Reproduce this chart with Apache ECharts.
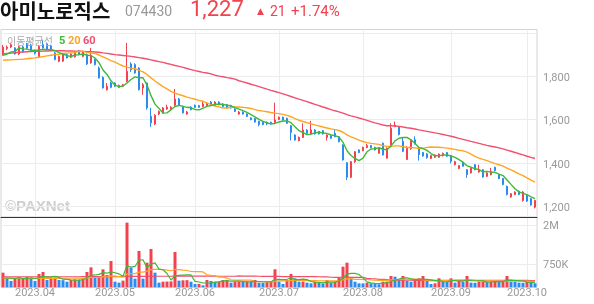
<!DOCTYPE html>
<html><head><meta charset="utf-8">
<script src="https://cdn.jsdelivr.net/npm/echarts@6/dist/echarts.min.js"></script>
<style>html,body{margin:0;padding:0;background:#fff}#c{width:594px;height:304px}</style>
</head><body><div id="c"></div>
<script>
const dates = [
'2023-03-22','2023-03-23','2023-03-24','2023-03-27','2023-03-28','2023-03-29','2023-03-30','2023-03-31',
'2023-04-03','2023-04-04','2023-04-05','2023-04-06','2023-04-07','2023-04-10','2023-04-11','2023-04-12','2023-04-13','2023-04-14','2023-04-17','2023-04-18','2023-04-19','2023-04-20','2023-04-21','2023-04-24','2023-04-25','2023-04-26','2023-04-27','2023-04-28',
'2023-05-02','2023-05-03','2023-05-04','2023-05-08','2023-05-09','2023-05-10','2023-05-11','2023-05-12','2023-05-15','2023-05-16','2023-05-17','2023-05-18','2023-05-19','2023-05-22','2023-05-23','2023-05-24','2023-05-25','2023-05-26','2023-05-30','2023-05-31',
'2023-06-01','2023-06-02','2023-06-05','2023-06-07','2023-06-08','2023-06-09','2023-06-12','2023-06-13','2023-06-14','2023-06-15','2023-06-16','2023-06-19','2023-06-20','2023-06-21','2023-06-22','2023-06-23','2023-06-26','2023-06-27','2023-06-28','2023-06-29','2023-06-30',
'2023-07-03','2023-07-04','2023-07-05','2023-07-06','2023-07-07','2023-07-10','2023-07-11','2023-07-12','2023-07-13','2023-07-14','2023-07-17','2023-07-18','2023-07-19','2023-07-20','2023-07-21','2023-07-24','2023-07-25','2023-07-26','2023-07-27','2023-07-28','2023-07-31',
'2023-08-01','2023-08-02','2023-08-03','2023-08-04','2023-08-07','2023-08-08','2023-08-09','2023-08-10','2023-08-11','2023-08-14','2023-08-16','2023-08-17','2023-08-18','2023-08-21','2023-08-22','2023-08-23','2023-08-24','2023-08-25','2023-08-28','2023-08-29','2023-08-30','2023-08-31',
'2023-09-01','2023-09-04','2023-09-05','2023-09-06','2023-09-07','2023-09-08','2023-09-11','2023-09-12','2023-09-13','2023-09-14','2023-09-15','2023-09-18','2023-09-19','2023-09-20','2023-09-21','2023-09-22','2023-09-25','2023-09-26','2023-09-27',
'2023-10-04','2023-10-05','2023-10-06'];

const opens = [
1900,1928,1935,1931,1903,1936,1950,1945,1918,1888,
1946,1950,1940,1908,1869,1870,1900,1888,1890,1918,
1892,1900,1862,1877,1838,1795,1738,1769,1769,1749,
1754,1777,1857,1854,1838,1746,1769,1615,1580,1626,
1631,1649,1646,1666,1695,1661,1626,1658,1666,1665,
1661,1665,1681,1666,1681,1672,1669,1665,1649,1626,
1635,1626,1608,1605,1592,1588,1588,1588,1586,1601,
1611,1606,1572,1529,1503,1518,1552,1534,1552,1545,
1549,1518,1525,1537,1521,1483,1401,1334,1406,1460,
1457,1471,1480,1472,1445,1491,1422,1483,1568,1568,
1500,1416,1466,1507,1470,1448,1442,1421,1426,1426,
1434,1448,1434,1392,1374,1403,1369,1354,1392,1358,
1369,1338,1346,1380,1346,1328,1292,1243,1254,1269,
1226,1250,1235,1196];
const highs = [
1945,1942,1955,1935,1942,1940,1955,1950,1922,1942,
1969,1956,1946,1912,1895,1908,1905,1906,1915,1922,
1918,1905,1931,1882,1845,1800,1769,1775,1772,1762,
1765,1954,1865,1860,1842,1769,1772,1654,1625,1642,
1658,1669,1662,1741,1700,1665,1640,1662,1670,1668,
1685,1678,1686,1685,1685,1676,1672,1668,1652,1640,
1638,1629,1611,1608,1595,1591,1591,1590,1678,1614,
1614,1609,1575,1532,1522,1583,1556,1594,1556,1548,
1552,1532,1528,1555,1524,1486,1404,1409,1455,1463,
1475,1488,1483,1475,1471,1494,1472,1583,1591,1571,
1515,1477,1510,1523,1473,1451,1445,1437,1440,1444,
1448,1451,1437,1410,1390,1406,1372,1380,1395,1392,
1372,1357,1377,1383,1349,1331,1295,1261,1269,1272,
1270,1253,1238,1230];
const lows = [
1895,1920,1930,1900,1898,1910,1925,1915,1900,1885,
1928,1920,1918,1874,1865,1866,1882,1884,1886,1897,
1888,1852,1858,1850,1790,1744,1734,1745,1750,1745,
1750,1772,1820,1812,1735,1715,1646,1566,1575,1620,
1628,1645,1642,1662,1662,1628,1622,1643,1654,1654,
1658,1662,1662,1662,1666,1658,1651,1651,1635,1622,
1623,1612,1597,1586,1569,1574,1574,1577,1583,1598,
1595,1580,1504,1503,1500,1515,1534,1530,1531,1531,
1531,1503,1511,1518,1495,1411,1321,1330,1400,1445,
1454,1468,1468,1457,1442,1434,1420,1480,1565,1527,
1450,1414,1460,1485,1411,1429,1420,1418,1423,1423,
1430,1428,1398,1389,1371,1382,1331,1351,1366,1355,
1332,1335,1343,1362,1325,1297,1250,1240,1251,1251,
1222,1220,1203,1190];
const closes = [
1935,1935,1946,1903,1936,1912,1930,1918,1906,1938,
1931,1923,1923,1877,1892,1900,1885,1903,1912,1900,
1915,1857,1896,1854,1792,1746,1754,1749,1754,1758,
1761,1823,1830,1815,1738,1761,1654,1585,1620,1638,
1654,1658,1657,1695,1666,1631,1635,1646,1657,1657,
1672,1674,1666,1681,1669,1661,1654,1654,1638,1635,
1626,1615,1600,1589,1577,1577,1580,1580,1598,1611,
1598,1583,1540,1506,1518,1552,1537,1552,1534,1534,
1534,1529,1514,1521,1498,1414,1334,1406,1452,1448,
1472,1480,1471,1460,1468,1437,1468,1560,1575,1531,
1454,1468,1506,1489,1438,1432,1424,1434,1437,1441,
1444,1431,1408,1406,1388,1385,1346,1377,1369,1369,
1335,1354,1361,1365,1328,1300,1254,1258,1266,1254,
1266,1224,1206,1227];
const volumes = [
471000,310000,203000,289000,292000,295000,342000,289000,203000,428000,
493000,235000,310000,315000,235000,230000,181000,235000,257000,250000,
289000,493000,643000,310000,342000,579000,396000,847000,181000,149000,
214000,2081000,632000,278000,1169000,278000,793000,1233000,471000,149000,
181000,185000,190000,1137000,214000,225000,230000,181000,106000,110000,
63000,235000,203000,181000,185000,235000,240000,149000,181000,185000,
181000,185000,181000,235000,149000,145000,181000,185000,579000,181000,
106000,235000,428000,289000,181000,185000,149000,128000,181000,149000,
128000,235000,149000,181000,321000,664000,793000,289000,181000,128000,
125000,149000,128000,106000,100000,181000,185000,364000,342000,257000,
364000,203000,181000,235000,289000,364000,203000,106000,128000,289000,
181000,175000,289000,149000,214000,181000,364000,149000,145000,181000,
185000,175000,185000,190000,181000,185000,364000,181000,175000,149000,
145000,181000,149000,128000];
const ma5Head = [1897,1903,1912,1915];
const ma20Head = [1874,1875,1876,1877,1878,1879,1881,1883,1885,1888,1891,1894,1897,1900,1902,1905,1907,1908,1909];
const ma60Head = [1903,1905,1907,1909,1911,1912,1913,1914,1915,1915,1916,1917,1918,1918,1918,1918,1917,1917,1916,1916,
1915,1914,1913,1912,1911,1908,1906,1903,1900,1898,1896,1894,1892,1889,1886,1883,1880,1876,1872,1868,
1864,1859,1855,1850,1846,1841,1836,1831,1826,1822,1818,1815,1811,1805,1801,1798,1794,1791,1787];
const volMa5Head = [300000,300000,295000,290000];
const volMa20Head = [292000,291000,290000,289000,288000,287000,287000,286000,286000,285000,285000,286000,287000,288000,289000,290000,291000,292000,293000];
const volMa60Head = [340000,340000,340000,340000,340000,340000,340000,340000,340000,340000,
340000,340000,340000,340000,340000,340000,340000,340000,340000,340000,
341000,341000,342000,342000,343000,343000,344000,344000,345000,345000,
346000,352000,353000,353000,354000,354000,355000,355000,356000,356000,
356000,356000,356000,357000,357000,357000,357000,357000,357000,357000,
357000,357000,356000,356000,356000,356000,356000,356000,356000];
const monthTickLabels = ['2023.04','2023.05','2023.06','2023.07','2023.08','2023.09','2023.10'];
const priceLabelValues = [1200,1400,1600,1800];
const priceGridValues = [1200,1400,1600,1800,2000];
const volumeLabelValues = [750000,2000000];

const stockName = '아미노로직스';
const stockCode = '074430';

const RED = '#f2424f', BLUE = '#2b8bef';
const C5 = '#3fb83a', C20 = '#ffa524', C60 = '#f0506e';

function ma(arr, n, head) {
  const out = [];
  for (let i = 0; i < arr.length; i++) {
    if (head && i < head.length) { out.push(head[i]); continue; }
    const s = Math.max(0, i - n + 1);
    let sum = 0;
    for (let j = s; j <= i; j++) sum += arr[j];
    out.push(+(sum / (i - s + 1)).toFixed(1));
  }
  return out;
}
const n = dates.length;
const monthIdx = monthTickLabels.map(t => dates.findIndex(d => d.slice(0,7) === t.replace('.', '-')));
const candle = dates.map((d, i) => [opens[i], closes[i], lows[i], highs[i]]);
const last = closes[n-1], prev = closes[n-2];
const chg = last - prev;
const pct = (chg / prev * 100).toFixed(2);
const fmt = v => String(v).replace(/\B(?=(\d{3})+(?!\d))/g, ',');

const chart = echarts.init(document.getElementById('c'), null, {renderer: 'canvas'});
const axisFont = {color: '#999', fontSize: 11, fontFamily: 'Roboto, sans-serif'};
const gridLine = {show: true, lineStyle: {color: '#ececec', width: 1}};
chart.setOption({
  animation: false,
  backgroundColor: '#fff',
  grid: [
    {left: 1, right: 57, top: 29.5, height: 187.6, show: true, borderColor: '#d4d4d4', borderWidth: 1},
    {left: 1, right: 57, top: 217.3, height: 70, show: true, borderColor: '#d4d4d4', borderWidth: 1}
  ],
  xAxis: [
    {type: 'category', gridIndex: 0, data: dates, boundaryGap: true, position: 'bottom',
     axisLine: {show: true, lineStyle: {color: '#333', width: 1}}, axisTick: {show: false}, axisLabel: {show: false}, splitLine: {show: false}},
    {type: 'value', gridIndex: 0, min: -0.5, max: n - 0.5, position: 'top',
     axisLine: {show: false}, axisTick: {show: false, customValues: monthIdx}, axisLabel: {show: false, customValues: monthIdx}, splitLine: gridLine},
    {type: 'category', gridIndex: 1, data: dates, boundaryGap: true, position: 'bottom',
     axisLine: {show: false}, axisTick: {show: false}, axisLabel: {show: false}, splitLine: {show: false}},
    {type: 'value', gridIndex: 1, min: -0.5, max: n - 0.5, position: 'bottom',
     axisLine: {show: false}, axisTick: {show: false, customValues: monthIdx},
     axisLabel: Object.assign({show: true, margin: 0, customValues: monthIdx,
       formatter: v => monthTickLabels[monthIdx.indexOf(Math.round(v))] || ''}, axisFont),
     splitLine: gridLine}
  ],
  yAxis: [
    {type: 'value', gridIndex: 0, position: 'right', min: 1150, max: 2016, scale: true,
     axisLine: {show: false}, axisTick: {show: false, customValues: priceGridValues},
     axisLabel: Object.assign({margin: 6, customValues: priceLabelValues, formatter: v => fmt(v), verticalAlign: 'top', lineHeight: 4}, axisFont),
     splitLine: gridLine},
    {type: 'value', gridIndex: 1, position: 'right', min: 0, max: 2254000,
     axisLine: {show: false}, axisTick: {show: false, customValues: volumeLabelValues},
     axisLabel: Object.assign({margin: 6, customValues: volumeLabelValues, verticalAlign: 'top', lineHeight: 2,
       formatter: v => v >= 1e6 ? (v/1e6) + 'M' : (v/1e3) + 'K'}, axisFont),
     splitLine: gridLine}
  ],
  series: [
    {type: 'candlestick', xAxisIndex: 0, yAxisIndex: 0, data: candle, barWidth: 2,
     itemStyle: {color: RED, color0: BLUE, borderColor: RED, borderColor0: BLUE, borderWidth: 1}},
    {type: 'line', xAxisIndex: 0, yAxisIndex: 0, data: ma(closes, 60, ma60Head), showSymbol: false, lineStyle: {color: C60, width: 1.4}},
    {type: 'line', xAxisIndex: 0, yAxisIndex: 0, data: ma(closes, 20, ma20Head), showSymbol: false, lineStyle: {color: C20, width: 1.4}},
    {type: 'line', xAxisIndex: 0, yAxisIndex: 0, data: ma(closes, 5, ma5Head), showSymbol: false, lineStyle: {color: C5, width: 1.4}},
    {type: 'bar', xAxisIndex: 2, yAxisIndex: 1, data: volumes, barWidth: 3,
     itemStyle: {color: p => (p.dataIndex === 0 || volumes[p.dataIndex] > volumes[p.dataIndex - 1]) ? RED : BLUE}},
    {type: 'line', xAxisIndex: 2, yAxisIndex: 1, data: ma(volumes, 60, volMa60Head), showSymbol: false, lineStyle: {color: C60, width: 1.2}},
    {type: 'line', xAxisIndex: 2, yAxisIndex: 1, data: ma(volumes, 20, volMa20Head), showSymbol: false, lineStyle: {color: C20, width: 1.2}},
    {type: 'line', xAxisIndex: 2, yAxisIndex: 1, data: ma(volumes, 5, volMa5Head), showSymbol: false, lineStyle: {color: C5, width: 1.2}}
  ],
  graphic: [
    {type: 'text', x: 0, y: 11, style: {text: stockName, fill: '#111', font: 'bold 20px "Noto Sans CJK KR"', verticalAlign: 'middle'}},
    {type: 'text', x: 125, y: 12.5, style: {text: stockCode, fill: '#999', font: '14px Roboto', verticalAlign: 'middle'}},
    {type: 'text', x: 190, y: 10.5, style: {text: fmt(last), fill: RED, font: '22px Roboto', verticalAlign: 'middle'}},
    {type: 'text', x: 257, y: 11.5, style: {text: chg >= 0 ? '▲' : '▼', fill: RED, font: '9px "DejaVu Sans"', verticalAlign: 'middle'}},
    {type: 'text', x: 270, y: 12.5, style: {text: String(Math.abs(chg)), fill: RED, font: '14px Roboto', verticalAlign: 'middle'}},
    {type: 'text', x: 291, y: 12.5, style: {text: (chg >= 0 ? '+' : '') + pct + '%', fill: RED, font: '15px Roboto', verticalAlign: 'middle'}},
    {type: 'text', x: 7, y: 41, z: 100, style: {text: '이동평균선', fill: '#a8a8a8', font: '10px "Noto Sans CJK KR"', verticalAlign: 'middle'}},
    {type: 'text', x: 59, y: 41, z: 100, style: {text: '5', fill: C5, font: 'bold 11px Roboto', verticalAlign: 'middle'}},
    {type: 'text', x: 68, y: 41, z: 100, style: {text: '20', fill: C20, font: 'bold 11px Roboto', verticalAlign: 'middle'}},
    {type: 'text', x: 83, y: 41, z: 100, style: {text: '60', fill: C60, font: 'bold 11px Roboto', verticalAlign: 'middle'}},
    {type: 'text', x: 5, y: 207, style: {text: '©PAXNet', fill: '#cfcfcf', font: 'bold 15px "Liberation Sans"', verticalAlign: 'middle'}}
  ]
});
</script></body></html>
